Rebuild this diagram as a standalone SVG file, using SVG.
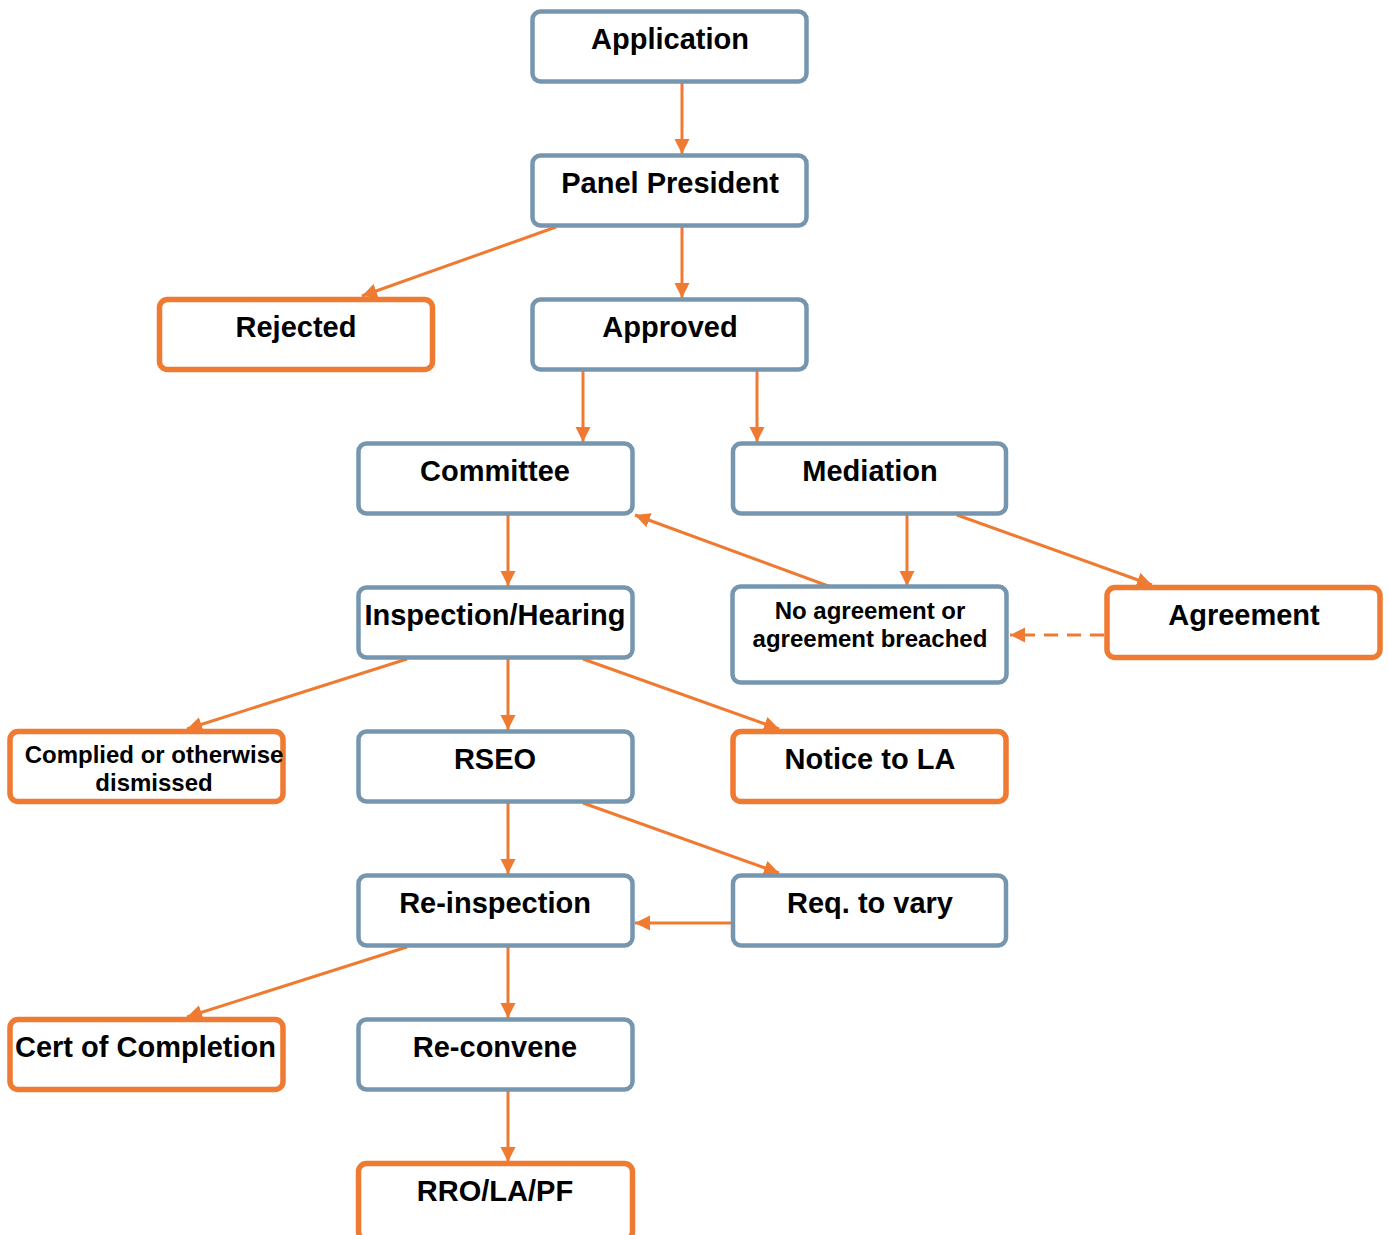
<svg xmlns="http://www.w3.org/2000/svg" width="1388" height="1235" viewBox="0 0 1388 1235">
<style>
.b{fill:#fff;stroke:#7596AE;stroke-width:4.5}
.o{fill:#fff;stroke:#EF7A32;stroke-width:5.5}
.t{font-family:"Liberation Sans",Arial,sans-serif;font-weight:bold;font-size:29px;fill:#000;text-anchor:middle}
.s{font-size:24px}
.c{stroke:#EF7A32;stroke-width:3;fill:none;marker-end:url(#ah)}
.d{stroke-dasharray:14 9}
</style>
<defs>
<marker id="ah" markerUnits="userSpaceOnUse" markerWidth="16" markerHeight="16" refX="15" refY="7.5" orient="auto">
<path d="M0,0 L15,7.5 L0,15 z" fill="#EF7A32"/>
</marker>
</defs>
<rect width="1388" height="1235" fill="#fff"/>
<g id="connectors">
<line class="c" x1="682" y1="83" x2="682" y2="154"/>
<line class="c" x1="682" y1="227" x2="682" y2="298"/>
<line class="c" x1="556" y1="227" x2="362" y2="296"/>
<line class="c" x1="583" y1="371" x2="583" y2="442"/>
<line class="c" x1="757" y1="371" x2="757" y2="442"/>
<line class="c" x1="508" y1="515" x2="508" y2="586"/>
<line class="c" x1="907" y1="515" x2="907" y2="586"/>
<line class="c" x1="957" y1="515" x2="1152" y2="585"/>
<line class="c" x1="831" y1="587" x2="635" y2="515"/>
<line class="c d" x1="1104" y1="635" x2="1010" y2="635"/>
<line class="c" x1="407" y1="659" x2="187" y2="729"/>
<line class="c" x1="508" y1="659" x2="508" y2="730"/>
<line class="c" x1="583" y1="659" x2="779" y2="729"/>
<line class="c" x1="508" y1="803" x2="508" y2="874"/>
<line class="c" x1="583" y1="803" x2="779" y2="873"/>
<line class="c" x1="731" y1="923" x2="635" y2="923"/>
<line class="c" x1="407" y1="947" x2="187" y2="1017"/>
<line class="c" x1="508" y1="947" x2="508" y2="1018"/>
<line class="c" x1="508" y1="1091" x2="508" y2="1162"/>
</g>
<g id="application"><rect class="b" x="532.5" y="11.5" width="274" height="70" rx="8"/><text class="t" x="670" y="48.5">Application</text></g>
<g id="panel-president"><rect class="b" x="532.5" y="155.5" width="274" height="70" rx="8"/><text class="t" x="670" y="192.5">Panel President</text></g>
<g id="rejected"><rect class="o" x="159.5" y="299.5" width="273" height="70" rx="8"/><text class="t" x="296" y="336.5">Rejected</text></g>
<g id="approved"><rect class="b" x="532.5" y="299.5" width="274" height="70" rx="8"/><text class="t" x="670" y="336.5">Approved</text></g>
<g id="committee"><rect class="b" x="358.5" y="443.5" width="274" height="70" rx="8"/><text class="t" x="495" y="480.5">Committee</text></g>
<g id="mediation"><rect class="b" x="733" y="443.5" width="273" height="70" rx="8"/><text class="t" x="870" y="480.5">Mediation</text></g>
<g id="inspection-hearing"><rect class="b" x="358.5" y="587.5" width="274" height="70" rx="8"/><text class="t" x="495" y="624.5">Inspection/Hearing</text></g>
<g id="no-agreement"><rect class="b" x="732.5" y="586.5" width="274" height="96" rx="8"/><text class="t s" x="870" y="619">No agreement or</text><text class="t s" x="870" y="647">agreement breached</text></g>
<g id="agreement"><rect class="o" x="1107" y="587.5" width="273" height="70" rx="8"/><text class="t" x="1244" y="624.5">Agreement</text></g>
<g id="complied"><rect class="o" x="10" y="731.5" width="273" height="70" rx="8"/><text class="t s" x="154" y="763">Complied or otherwise</text><text class="t s" x="154" y="791">dismissed</text></g>
<g id="rseo"><rect class="b" x="358.5" y="731.5" width="274" height="70" rx="8"/><text class="t" x="495" y="768.5">RSEO</text></g>
<g id="notice-to-la"><rect class="o" x="733" y="731.5" width="273" height="70" rx="8"/><text class="t" x="870" y="768.5">Notice to LA</text></g>
<g id="re-inspection"><rect class="b" x="358.5" y="875.5" width="274" height="70" rx="8"/><text class="t" x="495" y="912.5">Re-inspection</text></g>
<g id="req-to-vary"><rect class="b" x="733" y="875.5" width="273" height="70" rx="8"/><text class="t" x="870" y="912.5">Req. to vary</text></g>
<g id="cert-of-completion"><rect class="o" x="10" y="1019.5" width="273" height="70" rx="8"/><text class="t" x="145.5" y="1056.5">Cert of Completion</text></g>
<g id="re-convene"><rect class="b" x="358.5" y="1019.5" width="274" height="70" rx="8"/><text class="t" x="495" y="1056.5">Re-convene</text></g>
<g id="rro-la-pf"><rect class="o" x="358.5" y="1163.5" width="274" height="76" rx="8"/><text class="t" x="495" y="1200.5">RRO/LA/PF</text></g>
</svg>
